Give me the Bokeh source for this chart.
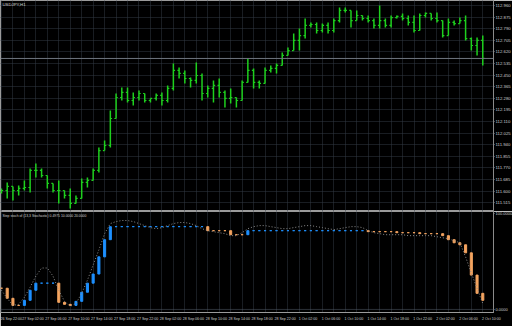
from bokeh.plotting import figure
from bokeh.layouts import column
from bokeh.models import Range1d, FixedTicker, Grid, Span, Label, PrintfTickFormatter
from bokeh.embed import file_html
from bokeh.resources import INLINE

SYMBOL = "USDJPY,H1"
IND_TITLE = "Step stoch of (13,3 Stochastic) 0.4975 10.0000 20.0000"

OPEN = [111.590, 111.604, 111.634, 111.604, 111.619, 111.626, 111.751, 111.751, 111.714, 111.656,
        111.604, 111.604, 111.568, 111.509, 111.546, 111.663, 111.678, 111.751, 111.897, 111.934,
        112.132, 112.286, 112.323, 112.264, 112.286, 112.315, 112.264, 112.279, 112.301, 112.264,
        112.352, 112.484, 112.462, 112.425, 112.411, 112.447, 112.315, 112.352, 112.374, 112.323,
        112.279, 112.286, 112.264, 112.396, 112.484, 112.396, 112.389, 112.484, 112.499, 112.521,
        112.594, 112.630, 112.704, 112.740, 112.814, 112.821, 112.777, 112.814, 112.777, 112.850,
        112.924, 112.924, 112.850, 112.887, 112.865, 112.850, 112.814, 112.850, 112.814, 112.872,
        112.880, 112.865, 112.836, 112.777, 112.887, 112.902, 112.865, 112.850, 112.740, 112.836,
        112.828, 112.850, 112.718, 112.667, 112.704]
HIGH = [111.619, 111.663, 111.634, 111.641, 111.678, 111.766, 111.802, 111.766, 111.714, 111.656,
        111.678, 111.604, 111.619, 111.568, 111.692, 111.700, 111.766, 111.919, 111.971, 112.191,
        112.315, 112.359, 112.359, 112.323, 112.337, 112.315, 112.279, 112.315, 112.323, 112.374,
        112.535, 112.506, 112.484, 112.433, 112.543, 112.462, 112.374, 112.411, 112.425, 112.337,
        112.352, 112.286, 112.411, 112.572, 112.499, 112.411, 112.506, 112.521, 112.535, 112.616,
        112.652, 112.755, 112.792, 112.865, 112.836, 112.836, 112.828, 112.836, 112.865, 112.946,
        112.946, 112.924, 112.924, 112.887, 112.887, 112.865, 112.960, 112.865, 112.887, 112.887,
        112.902, 112.887, 112.887, 112.902, 112.909, 112.902, 112.909, 112.850, 112.865, 112.850,
        112.872, 112.887, 112.726, 112.726, 112.740]
LOW = [111.582, 111.546, 111.531, 111.568, 111.604, 111.590, 111.700, 111.700, 111.619, 111.590,
       111.509, 111.546, 111.472, 111.509, 111.546, 111.626, 111.678, 111.736, 111.897, 111.919,
       112.132, 112.264, 112.249, 112.227, 112.264, 112.249, 112.249, 112.264, 112.227, 112.249,
       112.337, 112.425, 112.389, 112.359, 112.389, 112.264, 112.286, 112.249, 112.286, 112.213,
       112.242, 112.213, 112.264, 112.396, 112.352, 112.352, 112.389, 112.469, 112.462, 112.521,
       112.594, 112.630, 112.630, 112.718, 112.799, 112.755, 112.762, 112.755, 112.762, 112.836,
       112.909, 112.799, 112.850, 112.850, 112.836, 112.792, 112.792, 112.799, 112.799, 112.865,
       112.850, 112.814, 112.762, 112.777, 112.872, 112.850, 112.836, 112.726, 112.740, 112.814,
       112.828, 112.704, 112.630, 112.594, 112.521]
CLOSE = [111.604, 111.634, 111.604, 111.619, 111.626, 111.751, 111.751, 111.714, 111.656, 111.604,
         111.604, 111.568, 111.509, 111.546, 111.663, 111.678, 111.751, 111.897, 111.934, 112.132,
         112.286, 112.323, 112.264, 112.286, 112.315, 112.264, 112.279, 112.301, 112.264, 112.352,
         112.484, 112.462, 112.425, 112.411, 112.447, 112.315, 112.352, 112.374, 112.323, 112.279,
         112.286, 112.264, 112.396, 112.484, 112.396, 112.389, 112.484, 112.499, 112.521, 112.594,
         112.630, 112.704, 112.740, 112.814, 112.821, 112.777, 112.814, 112.777, 112.850, 112.924,
         112.924, 112.850, 112.887, 112.865, 112.850, 112.814, 112.850, 112.814, 112.872, 112.880,
         112.865, 112.836, 112.777, 112.887, 112.902, 112.865, 112.850, 112.740, 112.836, 112.828,
         112.850, 112.718, 112.667, 112.704, 112.572]

STEP = [22.1, 11.6, 4.2, 4.2, 9.5, 20.0, 27.4, 27.4, 27.4, 27.4,
        7.4, 5.3, 4.2, 8.4, 17.9, 27.4, 36.9, 54.8, 72.7, 86.3,
        86.3, 86.3, 86.3, 86.3, 86.3, 86.3, 86.3, 86.3, 86.3, 86.3,
        86.3, 86.3, 86.3, 86.3, 86.3, 86.3, 82.1, 82.1, 82.1, 82.1,
        77.9, 77.9, 77.9, 82.1, 82.1, 82.1, 82.1, 82.1, 82.1, 82.1,
        82.1, 82.1, 82.1, 82.1, 82.1, 82.1, 82.1, 82.1, 82.1, 82.1,
        82.1, 82.1, 82.1, 82.1, 81.1, 81.1, 81.1, 81.1, 81.1, 80.0,
        80.0, 80.0, 80.0, 79.0, 79.0, 79.0, 79.0, 76.9, 72.7, 69.5,
        67.4, 59.0, 35.8, 16.8, 9.5]
SIGNAL = [20.0, 11.6, 4.2, 5.3, 12.6, 23.2, 34.7, 43.2, 43.2, 34.7,
          20.0, 8.4, 3.2, 6.3, 16.8, 30.5, 46.3, 62.1, 79.0, 89.5,
          91.6, 92.7, 92.7, 91.6, 89.5, 87.4, 85.3, 84.2, 85.3, 87.4,
          89.5, 90.6, 90.6, 89.5, 87.4, 84.2, 82.1, 81.1, 80.0, 79.0,
          76.9, 76.9, 80.0, 84.2, 86.3, 87.4, 87.4, 86.3, 85.3, 84.2,
          84.2, 85.3, 86.3, 87.4, 87.4, 86.3, 85.3, 84.2, 83.2, 84.2,
          85.3, 86.3, 86.3, 85.3, 82.1, 80.0, 79.0, 77.9, 77.9, 77.9,
          77.9, 76.9, 76.9, 76.9, 76.9, 76.9, 75.8, 74.7, 73.7, 71.6,
          69.5, 54.8, 37.9, 22.1, 6.3]

PRICE_TICKS = [112.960, 112.875, 112.790, 112.705, 112.620, 112.535, 112.450, 112.365, 112.280,
               112.195, 112.110, 112.025, 111.940, 111.855, 111.770, 111.685, 111.600, 111.515]
IND_TICKS = [0, 100]
IND_TICK_LABELS = ["0.0000", "100.0000"]
TIME_TICK_BARS = [0, 4, 8, 12, 16, 20, 24, 28, 32, 36, 40, 44, 48, 52, 56, 60, 64, 68, 72, 76, 80, 84]
TIME_LABELS = ["26 Sep 22:00", "27 Sep 02:00", "27 Sep 06:00", "27 Sep 10:00", "27 Sep 14:00",
               "27 Sep 18:00", "27 Sep 22:00", "28 Sep 02:00", "28 Sep 06:00", "28 Sep 10:00",
               "28 Sep 14:00", "28 Sep 18:00", "28 Sep 22:00", "1 Oct 02:00", "1 Oct 06:00",
               "1 Oct 10:00", "1 Oct 14:00", "1 Oct 18:00", "1 Oct 22:00", "2 Oct 02:00",
               "2 Oct 06:00", "2 Oct 10:00"]

# ---- styles ----
BG = "#000000"
GREEN = "#1ed01e"
BLUE = "#1e90ff"
ORANGE = "#f4a460"
GRID_C = "#333a44"
FRAME_C = "#9a9a9a"
TXT_C = "#cfcfcf"
FONT = "Liberation Sans"
TICK = 0.3
LABEL_SHIFT = 1.5

n = len(CLOSE)
idx = list(range(n))
xr = Range1d(-0.17, 85.87)
top_range = Range1d(111.450, 112.997)
ind_range = Range1d(-3.2, 102.1)

common = dict(output_backend="svg", toolbar_location=None, x_range=xr,
              background_fill_color=BG, border_fill_color=BG, outline_line_color=FRAME_C,
              min_border_left=0, min_border_right=19, min_border_top=0, y_axis_location="right")

top = figure(frame_width=493, frame_height=211, y_range=top_range, x_axis_location=None,
             min_border_bottom=0, **common)
bot = figure(frame_width=493, frame_height=101, y_range=ind_range, x_axis_location="below",
             min_border_bottom=14, **common)

for p in (top, bot):
    p.grid.visible = False
    p.add_layout(Grid(dimension=0, ticker=FixedTicker(ticks=list(range(0, n + 1, 2))),
                      grid_line_color=GRID_C, grid_line_dash="1 1", grid_line_width=1))
    ax = p.yaxis[0]
    ax.axis_line_color = "#8a8a8a"
    ax.major_tick_line_color = "#8a8a8a"
    ax.major_tick_out = 1
    ax.major_tick_in = 0
    ax.minor_tick_out = 0
    ax.minor_tick_in = 0
    ax.major_label_standoff = 1
    ax.major_label_text_color = TXT_C
    ax.major_label_text_font = FONT

top.add_layout(Grid(dimension=1, ticker=FixedTicker(ticks=PRICE_TICKS),
                    grid_line_color=GRID_C, grid_line_dash="1 1", grid_line_width=1))
top.yaxis.ticker = FixedTicker(ticks=PRICE_TICKS)
top.yaxis.formatter = PrintfTickFormatter(format="%.3f")
top.yaxis.major_label_text_font_size = "4.3px"

# bars (high-low, open tick left, close tick right)
top.segment(x0=idx, y0=LOW, x1=idx, y1=HIGH, line_color=GREEN, line_width=1.5)
top.segment(x0=[i - TICK for i in idx], y0=OPEN, x1=idx, y1=OPEN, line_color=GREEN, line_width=1.2)
top.segment(x0=idx, y0=CLOSE, x1=[i + TICK for i in idx], y1=CLOSE, line_color=GREEN, line_width=1.2)

last = CLOSE[-1]
top.add_layout(Span(location=last, dimension="width", line_color="#6e757e", line_width=1))
top.add_layout(Label(x=xr.end, y=last, x_offset=1, text=f"{last:.3f}", text_baseline="middle",
                     text_font=FONT, text_font_size="4.3px", text_color="#000000",
                     background_fill_color="#b8bec6"))
top.add_layout(Label(x=xr.start, y=top_range.end, x_offset=2, y_offset=-1, text=SYMBOL,
                     text_baseline="top", text_font=FONT, text_font_size="4.3px", text_color=TXT_C))

# indicator: step segments coloured by direction
prev = [STEP[0]] + STEP[:-1]
colors = []
state = ORANGE
for a, b in zip(prev, STEP):
    if b > a:
        state = BLUE
    elif b < a:
        state = ORANGE
    colors.append(state)
lo = [min(a, b) for a, b in zip(prev, STEP)]
hi = [max(a, b) for a, b in zip(prev, STEP)]
bot.vbar(x=idx, width=0.36, bottom=lo, top=hi, fill_color=colors, line_color=colors, line_width=1)
bot.line(idx, SIGNAL, line_color="#8c8c8c", line_width=1, line_dash="1 2")
bot.add_layout(Span(location=0, dimension="width", line_color="#56606c", line_dash="1 1", line_width=1))
bot.add_layout(Label(x=xr.start, y=ind_range.end, x_offset=2, y_offset=-2, text=IND_TITLE,
                     text_baseline="top", text_font=FONT, text_font_size="3.4px", text_color=TXT_C))

bot.yaxis.ticker = FixedTicker(ticks=IND_TICKS)
bot.yaxis.major_label_overrides = {t: s for t, s in zip(IND_TICKS, IND_TICK_LABELS)}
bot.yaxis.major_label_text_font_size = "4.0px"

xa = bot.xaxis[0]
tick_pos = [b + LABEL_SHIFT for b in TIME_TICK_BARS]
xa.ticker = FixedTicker(ticks=tick_pos)
xa.major_label_overrides = {t: s for t, s in zip(tick_pos, TIME_LABELS)}
xa.major_label_text_font_size = "3.6px"
xa.major_label_text_color = TXT_C
xa.major_label_text_font = FONT
xa.axis_line_color = FRAME_C
xa.major_tick_out = 0
xa.major_tick_in = 0
xa.minor_tick_out = 0
xa.minor_tick_in = 0
xa.major_label_standoff = 4

layout = column(top, bot, spacing=0)
open("out.html", "w").write(file_html(layout, INLINE))
